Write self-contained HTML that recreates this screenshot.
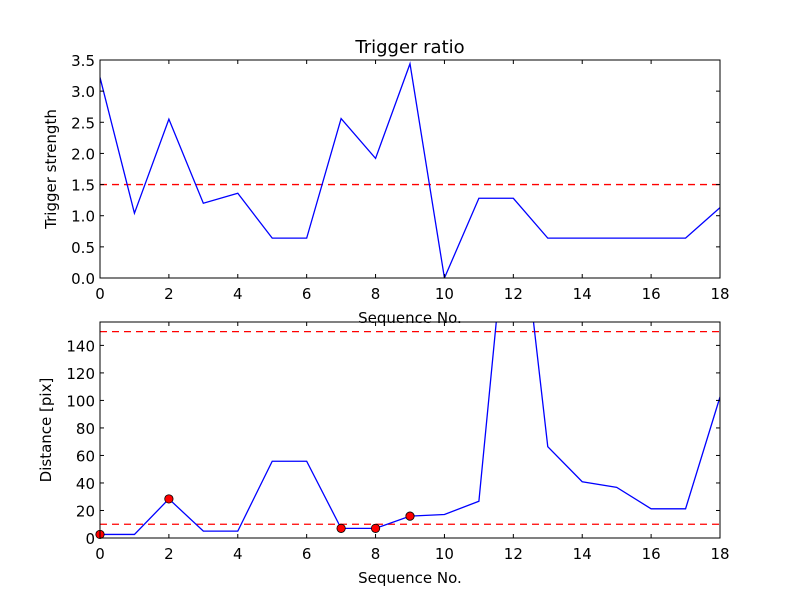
<!DOCTYPE html>
<html><head><meta charset="utf-8"><style>
body{margin:0;background:#fff;}
svg text{font-family:"DejaVu Sans","Liberation Sans",sans-serif;fill:#000;}
</style></head><body>
<svg id="chart" width="800" height="600" xmlns="http://www.w3.org/2000/svg">
<rect width="800" height="600" fill="#fff"/>
<g id="g1"></g>
<g id="g2"></g>
</svg>
<script>
const seq = [0,1,2,3,4,5,6,7,8,9,10,11,12,13,14,15,16,17,18];
const triggerStrength = [3.22,1.04,2.55,1.20,1.36,0.64,0.64,2.56,1.92,3.44,0.0,1.28,1.28,0.64,0.64,0.64,0.64,0.64,1.13];
const triggerThreshold = 1.5;
const distance = [2.6,2.6,28.4,5,5,55.8,55.8,7,7,15.9,17.1,26.7,285,66.4,40.9,36.8,21.2,21.2,102.5];
const distanceThresholds = [150,10];
const markedIdx = [0,2,7,8,9];
const xTicks = [0,2,4,6,8,10,12,14,16,18];
const yTicks1 = [0.0,0.5,1.0,1.5,2.0,2.5,3.0,3.5];
const yTicks2 = [0,20,40,60,80,100,120,140];

const NS="http://www.w3.org/2000/svg";
function mk(parent,tag,attrs){const e=document.createElementNS(NS,tag);for(const k in attrs)e.setAttribute(k,attrs[k]);parent.appendChild(e);return e;}

function drawPlot(g,o){
  const X=v=>o.l+(v-0)/(18-0)*(o.r-o.l);
  const Y=v=>o.b-(v-o.ymin)/(o.ymax-o.ymin)*(o.b-o.t);
  const cp="clip"+o.id;
  const defs=mk(g,"defs",{});
  const c=mk(defs,"clipPath",{id:cp});
  mk(c,"rect",{x:o.l,y:o.t,width:o.r-o.l,height:o.b-o.t});
  o.thr.forEach(t=>{
    const ln=mk(g,"line",{x1:o.l,x2:o.r,y1:Y(t),y2:Y(t),stroke:"#ff0000","stroke-width":1.3,"stroke-dasharray":"7,5","clip-path":"url(#"+cp+")"});
    
    
  });
  const pts=o.data.map((v,i)=>X(seq[i]).toFixed(2)+","+Y(v).toFixed(2)).join(" ");
  const pl=mk(g,"polyline",{points:pts,fill:"none",stroke:"#0000ff","stroke-width":1.3,"clip-path":"url(#"+cp+")"});
  
  
  if(o.marks){o.marks.forEach(i=>{
    const m=mk(g,"circle",{cx:X(seq[i]),cy:Y(o.data[i]),r:4.2,fill:"#ff0000",stroke:"#000","stroke-width":0.8});
    
    
  });}
  const fr=mk(g,"rect",{x:o.l,y:o.t,width:o.r-o.l,height:o.b-o.t,fill:"none",stroke:"#000","stroke-width":1});
  
  
  xTicks.forEach(v=>{
    const x=X(v);
    mk(g,"line",{x1:x,x2:x,y1:o.b,y2:o.b-4,stroke:"#000"});
    mk(g,"line",{x1:x,x2:x,y1:o.t,y2:o.t+4,stroke:"#000"});
    const t=mk(g,"text",{x:x,y:o.b+21,"text-anchor":"middle","font-size":15});
    t.textContent=v;
    
    
  });
  o.yt.forEach(v=>{
    const y=Y(v);
    mk(g,"line",{x1:o.l,x2:o.l+4,y1:y,y2:y,stroke:"#000"});
    mk(g,"line",{x1:o.r,x2:o.r-4,y1:y,y2:y,stroke:"#000"});
    const t=mk(g,"text",{x:o.l-5,y:y+6,"text-anchor":"end","font-size":15});
    t.textContent=o.fmt(v);
    
    
  });
  const xl=mk(g,"text",{x:(o.l+o.r)/2,y:o.b+45,"text-anchor":"middle","font-size":15});
  xl.textContent="Sequence No.";
  
  
  const yc=(o.t+o.b)/2;
  const yl=mk(g,"text",{x:o.ylx,y:yc,"text-anchor":"middle","font-size":15,transform:"rotate(-90 "+o.ylx+" "+yc+")"});
  yl.textContent=o.ylabel;
  
  
}
drawPlot(document.getElementById("g1"),{id:1,l:100,r:720,t:60,b:278,ymin:0,ymax:3.5,data:triggerStrength,thr:[triggerThreshold],yt:yTicks1,fmt:v=>v.toFixed(1),ylabel:"Trigger strength",ylx:56},);
drawPlot(document.getElementById("g2"),{id:2,l:100,r:720,t:322,b:538,ymin:0,ymax:157,data:distance,thr:distanceThresholds,yt:yTicks2,fmt:v=>String(v),ylabel:"Distance [pix]",ylx:51,marks:markedIdx});
const title=mk(document.getElementById("g1"),"text",{x:410,y:53,"text-anchor":"middle","font-size":18});
title.textContent="Trigger ratio";


</script>
</body></html>
